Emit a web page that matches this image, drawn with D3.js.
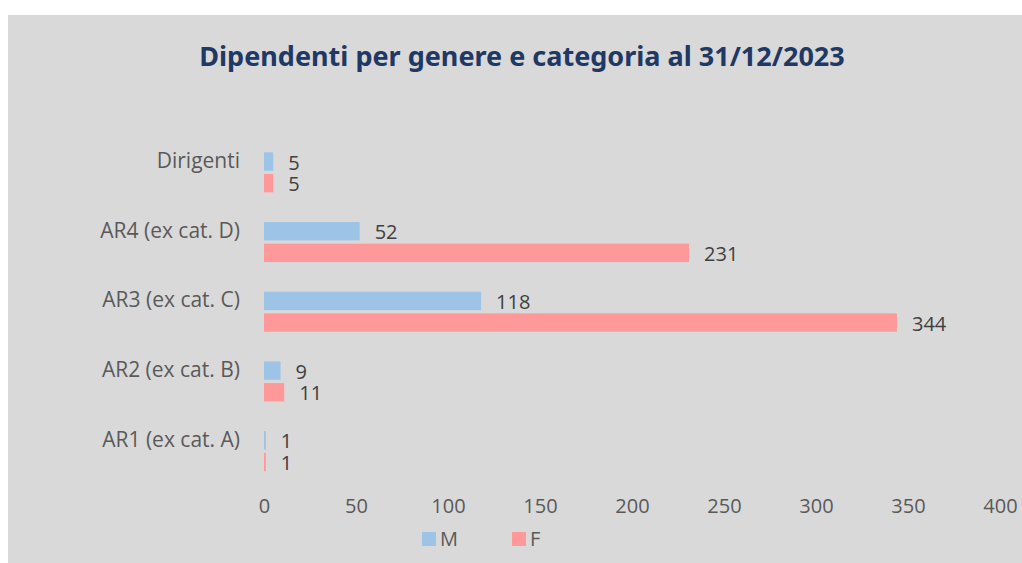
<!DOCTYPE html>
<html><head><meta charset="utf-8">
<script src="https://cdn.jsdelivr.net/npm/d3@7"></script>
<style>body{margin:0;background:#fff}svg{display:block}</style>
</head><body>
<svg id="c" width="1022" height="563"></svg>
<script>
const categories = ["Dirigenti","AR4 (ex cat. D)","AR3 (ex cat. C)","AR2 (ex cat. B)","AR1 (ex cat. A)"];
const seriesNames = ["M","F"];
const valuesM = [5,52,118,9,1];
const valuesF = [5,231,344,11,1];
const xTicks = [0,50,100,150,200,250,300,350,400];
const colors = {M:"#9dc3e6", F:"#ff9999"};
const title = "Dipendenti per genere e categoria al 31/12/2023";

const svg = d3.select("#c");
svg.append("rect").attr("x",8).attr("y",15).attr("width",1014).attr("height",548).attr("fill","#d9d9d9");

const font = "'Open Sans', 'Noto Sans', sans-serif";
svg.append("text").attr("x",522).attr("y",66).attr("text-anchor","middle")
  .attr("font-family","'Noto Sans', sans-serif").attr("font-weight","bold").attr("font-size",27)
  .attr("fill","#203864").text(title);

const x = d3.scaleLinear().domain([0,400]).range([264,1000]);
const y = d3.scaleBand().domain(categories).range([137.5,486]);
const inner = d3.scaleBand().domain(seriesNames).range([y.bandwidth()/2-20, y.bandwidth()/2+20]).paddingInner(0.15);

const data = categories.map((c,i)=>({cat:c, M:valuesM[i], F:valuesF[i]}));
const g = svg.append("g");
data.forEach(d=>{
  seriesNames.forEach(s=>{
    const yy = y(d.cat)+inner(s);
    g.append("rect").attr("x",x(0)).attr("y",yy).attr("width",Math.max(1,x(d[s])-x(0)))
      .attr("height",inner.bandwidth()).attr("fill",colors[s]);
    g.append("text").attr("x",x(d[s])+15).attr("y",yy+inner.bandwidth()/2+1).attr("dy","0.35em")
      .attr("font-family",font).attr("font-size",20).attr("fill","#404040").text(d[s]);
  });
});

// category axis (no line)
const yAxis = svg.append("g").attr("transform","translate(240,-11)")
  .call(d3.axisLeft(y).tickSize(0).tickPadding(0));
yAxis.select(".domain").remove();
yAxis.selectAll("text").attr("font-family",font).attr("font-size",21).attr("fill","#595959");

const xAxis = svg.append("g").attr("transform","translate(0,499)")
  .call(d3.axisBottom(x).tickValues(xTicks).tickSize(0).tickPadding(0));
xAxis.select(".domain").remove();
xAxis.selectAll("text").attr("font-family",font).attr("font-size",20).attr("fill","#595959");

// legend
const legend = svg.append("g");
const legendX = [422,512];
seriesNames.forEach((s,i)=>{
  legend.append("rect").attr("x",legendX[i]).attr("y",532).attr("width",14).attr("height",14).attr("fill",colors[s]);
  legend.append("text").attr("x",legendX[i]+18).attr("y",539).attr("dy","0.35em")
    .attr("font-family",font).attr("font-size",20).attr("fill","#595959").text(s);
});
</script>
</body></html>
